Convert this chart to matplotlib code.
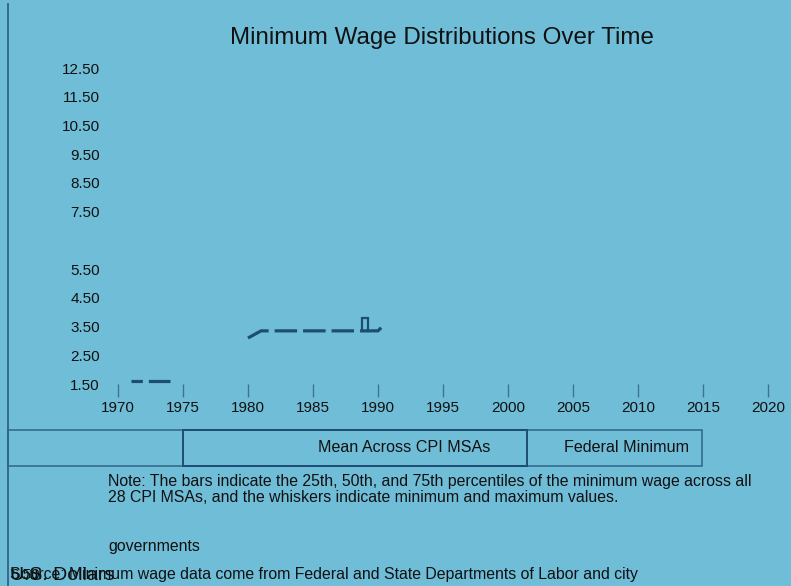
"""
Minimum wage distributions over time — recreated chart.
"""

import matplotlib
matplotlib.use("Agg")
import matplotlib.pyplot as plt
from matplotlib.patches import Rectangle
import numpy as np

plt.rcParams["font.family"] = ["Liberation Sans", "DejaVu Sans"]
plt.rcParams["lines.scale_dashes"] = False

# ── palette ──────────────────────────────────────────────────────────
BG = "#70BDD8"
NAVY = "#1E4D74"
FRAME = "#2F6488"
TICK = "#3D7399"
TXT = "#111111"

# ── data ─────────────────────────────────────────────────────────────
fed_years_a = [1971, 1972, 1973, 1974]
fed_wage_a = [1.60, 1.60, 1.60, 1.60]
fed_years_b = [1980, 1981, 1982, 1983, 1984, 1985, 1986, 1987, 1988, 1989, 1990, 1991]
fed_wage_b = [3.10, 3.35, 3.35, 3.35, 3.35, 3.35, 3.35, 3.35, 3.35, 3.35, 3.35, 3.80]

box_years = [1989]
box_p25 = [3.35]
box_p75 = [3.80]

x_ticks = [1970, 1975, 1980, 1985, 1990, 1995, 2000, 2005, 2010, 2015, 2020]
y_ticks = [1.5, 2.5, 3.5, 4.5, 5.5, 7.5, 8.5, 9.5, 10.5, 11.5, 12.5]

# ── canvas ───────────────────────────────────────────────────────────
W, H = 791, 586
fig = plt.figure(figsize=(W / 100, H / 100), dpi=100)
fig.patch.set_facecolor(BG)


def fx(px):
    return px / W


def fy(py):
    return 1 - py / H


# left frame line
fig.add_artist(plt.Line2D([fx(8), fx(8)], [fy(4), 0], color=FRAME, lw=1.3))

ax = fig.add_axes([fx(118), fy(384), fx(768) - fx(118), fy(68) - fy(384)])
ax.set_facecolor("none")
for s in ax.spines.values():
    s.set_visible(False)
ax.set_xlim(1970, 2020)
ax.set_ylim(1.5, 12.5)

ax.set_xticks(x_ticks)
ax.set_xticklabels([str(t) for t in x_ticks])
ax.tick_params(axis="x", direction="out", length=9.4, width=1, color=TICK,
               pad=2.5, labelsize=11, labelcolor=TXT)
ax.set_yticks(y_ticks)
ax.set_yticklabels([f"{t:.2f}" for t in y_ticks])
ax.tick_params(axis="y", length=0, pad=13, labelsize=11, labelcolor=TXT)

# ── federal minimum (dashed) ─────────────────────────────────────────
ax.plot(fed_years_a, fed_wage_a, color=NAVY, lw=2.3,
        linestyle=(8.0, (16.2, 4.3)), dash_capstyle="butt")
fed_b, = ax.plot(fed_years_b, fed_wage_b, color=NAVY, lw=2.3,
                 linestyle=(0, (16.2, 4.3)), dash_capstyle="butt",
                 solid_joinstyle="miter")
# the reference rendering is cut off just past 1990
fed_b.set_clip_path(Rectangle((1969, 0), 1990.35 - 1969, 20,
                              transform=ax.transData))

# ── MSA percentile box ───────────────────────────────────────────────
ax.bar(box_years, np.array(box_p75) - np.array(box_p25), bottom=box_p25,
       width=0.46, fill=False, edgecolor=NAVY, linewidth=1.6)

# ── title ────────────────────────────────────────────────────────────
fig.text(fx(442), fy(38), "Minimum Wage Distributions Over Time",
         ha="center", va="center", fontsize=17.4, color=TXT)

# ── legend boxes ─────────────────────────────────────────────────────
fig.add_artist(Rectangle((fx(8), fy(466)), fx(702) - fx(8), fy(430) - fy(466),
                         transform=fig.transFigure, fill=False,
                         edgecolor=FRAME, lw=1.1))
fig.add_artist(Rectangle((fx(183), fy(466)), fx(527) - fx(183), fy(430) - fy(466),
                         transform=fig.transFigure, fill=False,
                         edgecolor=NAVY, lw=1.4))
fig.text(fx(404), fy(448), "Mean Across CPI MSAs", ha="center", va="center",
         fontsize=11.6, color=TXT)
fig.text(fx(627), fy(448), "Federal Minimum", ha="center", va="center",
         fontsize=11.6, color=TXT)

# ── notes ────────────────────────────────────────────────────────────
fig.text(fx(108), fy(474),
         "Note: The bars indicate the 25th, 50th, and 75th percentiles of the minimum wage across all\n"
         "28 CPI MSAs, and the whiskers indicate minimum and maximum values.",
         ha="left", va="top", fontsize=11.4, color=TXT, linespacing=1.05)
fig.text(fx(108), fy(547), "governments", ha="left", va="center",
         fontsize=11.4, color=TXT)
fig.text(fx(10), fy(575),
         "Source: Minimum wage data come from Federal and State Departments of Labor and city",
         ha="left", va="center", fontsize=11.4, color=TXT)
fig.text(fx(10), fy(575), "6.50", ha="left", va="center", fontsize=11, color=TXT)
fig.text(fx(10), fy(575), "U.S. Dollars", ha="left", va="center",
         fontsize=14, color=TXT)

fig.savefig("out.png", dpi=100, facecolor=BG)
